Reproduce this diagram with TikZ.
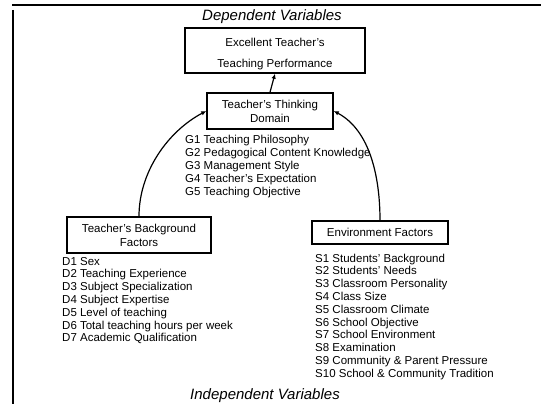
\documentclass[tikz,border=0pt]{standalone}
\usepackage{fontspec}
\setmainfont{Liberation Sans}
\usetikzlibrary{arrows.meta}
\tikzset{
  frame/.style={draw=black, line width=2pt},
  box/.style={draw=black, line width=1.5pt, align=center, inner sep=0pt,
    font=\fontsize{11.5}{14}\selectfont},
  item/.style={anchor=base west, inner sep=0pt, font=\fontsize{11.5}{13}\selectfont},
  head/.style={inner sep=0pt, font=\fontsize{15}{17}\selectfont\itshape},
  arr/.style={draw=black, line width=1.2pt, -{Latex[length=5pt,width=4.5pt]}},
}
\begin{document}
\begin{tikzpicture}[x=1pt, y=-1pt]
  \useasboundingbox (0,0) rectangle (541,404);
  % frame
  \draw[frame] (12,5) -- (541,5);
  \draw[frame] (13,10) -- (13,404);
  % headings
  \node[head] (dep) at (272,17) {Dependent Variables};
  \node[head] (indep) at (265,396) {Independent Variables};
  % boxes
  \node[box, minimum width=180pt, minimum height=45pt] (perf) at (275,50.5)
    {\rule{0pt}{15.5pt}Excellent Teacher's\\[7pt]Teaching Performance};
  \node[box, minimum width=126pt, minimum height=36pt] (think) at (270,111)
    {Teacher's Thinking\\Domain};
  \node[box, minimum width=144pt, minimum height=36pt] (back) at (139,235)
    {Teacher's Background\\Factors};
  \node[box, minimum width=136pt, minimum height=23pt] (env) at (380,232.5)
    {Environment Factors};
  % arrows
  \draw[arr] (think.north) -- (perf.south);
  \draw[arr] (back.north) to[out=90, in=208, looseness=0.9] (think.west);
  \draw[arr] (env.north) to[out=90, in=-28, looseness=0.9] (think.east);
  % lists
  \foreach \t [count=\i] in {Teaching Philosophy, Pedagogical Content Knowledge,
      Management Style, Teacher's Expectation, Teaching Objective}
    \node[item] (g\i) at (185,{143+13*(\i-1)}) {G\i\ \t};
  \foreach \t [count=\i] in {Sex, Teaching Experience, Subject Specialization,
      Subject Expertise, Level of teaching, Total teaching hours per week,
      Academic Qualification}
    \node[item] (d\i) at (62,{265+12.8*(\i-1)}) {D\i\ \t};
  \foreach \t [count=\i] in {Students' Background, Students' Needs,
      Classroom Personality, Class Size, Classroom Climate, School Objective,
      School Environment, Examination, Community \& Parent Pressure,
      School \& Community Tradition}
    \node[item] (s\i) at (315,{262+12.8*(\i-1)}) {S\i\ \t};
\end{tikzpicture}
\end{document}
